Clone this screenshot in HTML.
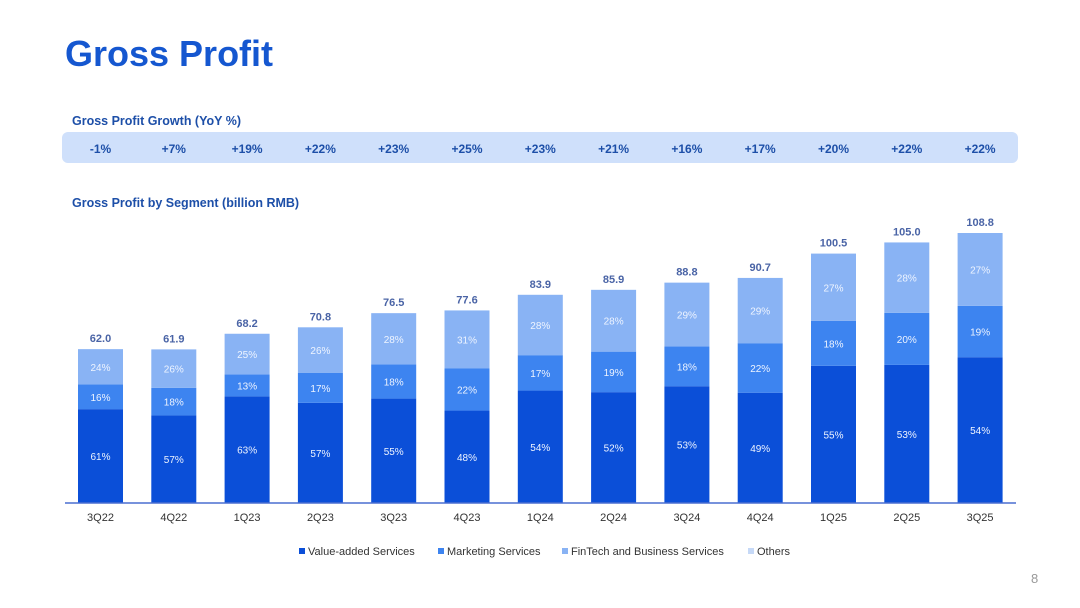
<!DOCTYPE html>
<html><head><meta charset="utf-8"><style>
body{margin:0;width:1080px;height:608px;background:#fff;font-family:"Liberation Sans",Arial,sans-serif;position:relative;overflow:hidden}
.t{position:absolute}
</style></head><body>
<div class="t" style="left:65px;top:33px;font-size:36px;font-weight:bold;color:#1557d0">Gross Profit</div>
<div class="t" style="left:72px;top:114px;font-size:12.5px;font-weight:bold;color:#1d4fa8">Gross Profit Growth (YoY %)</div>
<div class="t" style="left:62px;top:132px;width:956px;height:31px;background:#cfe0fb;border-radius:6px"></div>
<div class="t" style="left:72px;top:196px;font-size:12.5px;font-weight:bold;color:#1d4fa8">Gross Profit by Segment (billion RMB)</div>
<svg id="c" class="t" style="left:0;top:0" width="1080" height="608"></svg>
<div class="t" style="left:1031px;top:571px;font-size:13px;color:#999">8</div>
<script>
const categories=["3Q22","4Q22","1Q23","2Q23","3Q23","4Q23","1Q24","2Q24","3Q24","4Q24","1Q25","2Q25","3Q25"];
const growth=["-1%","+7%","+19%","+22%","+23%","+25%","+23%","+21%","+16%","+17%","+20%","+22%","+22%"];
const totals=[62.0,61.9,68.2,70.8,76.5,77.6,83.9,85.9,88.8,90.7,100.5,105.0,108.8];
const vasPct=[61,57,63,57,55,48,54,52,53,49,55,53,54];
const mktPct=[16,18,13,17,18,22,17,19,18,22,18,20,19];
const finPct=[24,26,25,26,28,31,28,28,29,29,27,28,27];
const NS="http://www.w3.org/2000/svg";
const svg=document.getElementById('c');
const base=503, scale=270/108.8;
const xc=i=>100.5+i*73.3;
const y=v=>base-v*scale;
function mk(tag,attrs,txt){const e=document.createElementNS(NS,tag);for(const k in attrs)e.setAttribute(k,attrs[k]);if(txt!=null)e.textContent=txt;svg.appendChild(e);return e;}
const F='"Liberation Sans",Arial,sans-serif';
categories.forEach((c,i)=>{
  const x=xc(i), w=45, T=totals[i];
  const v=T*vasPct[i]/100, m=T*mktPct[i]/100;
  let g=mk('text',{x:x,y:153,'text-anchor':'middle','font-family':F,'font-size':12,'font-weight':'bold',fill:'#1d4fa8'},growth[i]);
  
  
  let r1=mk('rect',{x:x-w/2,y:y(v),width:w,height:base-y(v),fill:'#0b4fd8'});
  
  
  let r2=mk('rect',{x:x-w/2,y:y(v+m),width:w,height:y(v)-y(v+m),fill:'#3d84f0'});
  
  
  let r3=mk('rect',{x:x-w/2,y:y(T),width:w,height:y(v+m)-y(T),fill:'#89b3f4'});
  
  
  const lab=(t,yy,n)=>{let e=mk('text',{x:x,y:yy+4,'text-anchor':'middle','font-family':F,'font-size':10,fill:'#eef4ff'},t);};
  lab(vasPct[i]+'%',(y(v)+base)/2,'vas-pct-label');
  lab(mktPct[i]+'%',(y(v)+y(v+m))/2,'marketing-pct-label');
  lab(finPct[i]+'%',(y(v+m)+y(T))/2,'fintech-pct-label');
  let tl=mk('text',{x:x,y:y(T)-7,'text-anchor':'middle','font-family':F,'font-size':11,'font-weight':'bold',fill:'#4a64a6'},T.toFixed(1));
  
  
  let xl=mk('text',{x:x,y:521,'text-anchor':'middle','font-family':F,'font-size':11,fill:'#333'},c);
  
  
});
let ax=mk('line',{x1:65,x2:1016,y1:base,y2:base,stroke:'#4a6fd0','stroke-width':1.5});


const leg=[["Value-added Services","#0b4fd8",299],["Marketing Services","#3d84f0",438],["FinTech and Business Services","#89b3f4",562],["Others","#c6d9f7",748]];
leg.forEach(l=>{
  let s=mk('rect',{x:l[2],y:548,width:6,height:6,fill:l[1]});
  
  
  let t=mk('text',{x:l[2]+9,y:555,'font-family':F,'font-size':11,fill:'#333'},l[0]);
  
  
});
</script>
</body></html>
